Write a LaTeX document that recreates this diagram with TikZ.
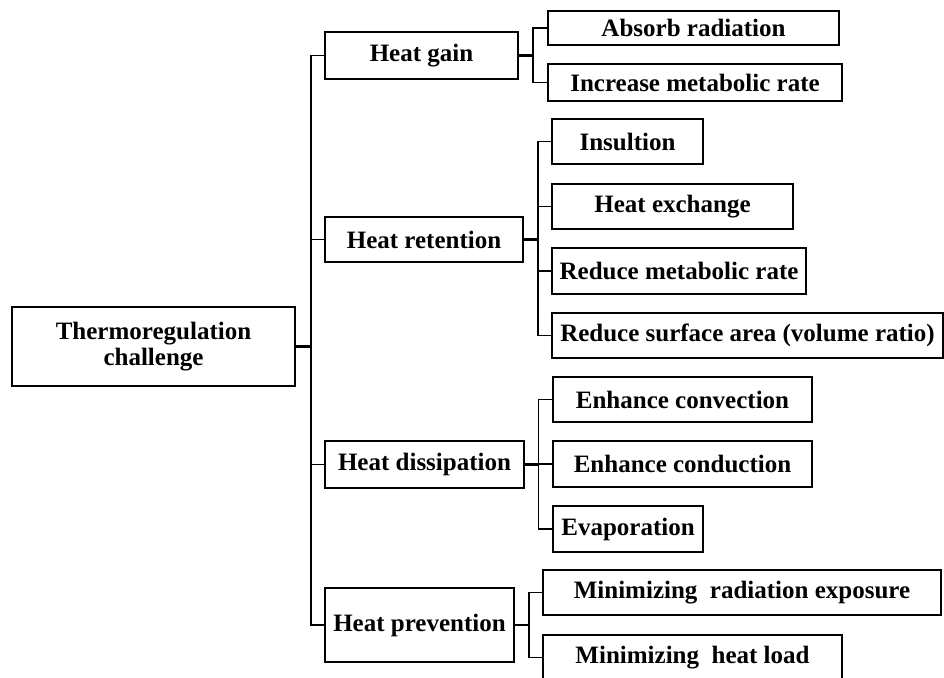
\documentclass[tikz,border=0pt]{standalone}
\usepackage{fontspec}
\setmainfont{Liberation Serif}
\begin{document}
\begin{tikzpicture}[x=1pt,y=-1pt,
  box/.style={draw=black, fill=white, line width=1.8pt, inner sep=0pt,
    font=\fontsize{25}{26.5}\selectfont\bfseries, align=center},
  link/.style={draw=black, line width=1.8pt},
  stub/.style={draw=black, line width=2.6pt}]
\useasboundingbox (0,0) rectangle (944,677);
\clip (0,0) rectangle (944,677);

% root
\node[box, minimum width=283pt, minimum height=79pt] (root) at (153.5,346.5)
  {Thermoregulation\\challenge};

% first level
\node[box, minimum width=193pt, minimum height=47pt] (gain) at (421.5,55.5) {Heat gain};
\node[box, minimum width=198pt, minimum height=45pt] (ret) at (424,239.5) {Heat retention};
\node[box, minimum width=199pt, minimum height=47pt] (dis) at (424.5,464.5) {Heat dissipation};
\node[box, minimum width=189pt, minimum height=74pt] (prev) at (419.5,625) {Heat prevention};

% heat gain
\node[box, minimum width=291pt, minimum height=34pt] (absorb) at (693.5,28) {Absorb radiation};
\node[box, minimum width=294pt, minimum height=37pt] (incr) at (695,82.5) {Increase metabolic rate};

% heat retention
\node[box, minimum width=151pt, minimum height=45pt] (insul) at (627.5,141.5) {Insultion};
\node[box, minimum width=241pt, minimum height=45pt] (exch) at (672.5,206.5) {Heat exchange};
\node[box, minimum width=254pt, minimum height=46pt] (redmet) at (679,271) {Reduce metabolic rate};
\node[box, minimum width=391pt, minimum height=45pt] (redsurf) at (747.5,335.5) {Reduce surface area (volume ratio)};

% heat dissipation
\node[box, minimum width=259pt, minimum height=45pt] (conv) at (682.5,399.5) {Enhance convection};
\node[box, minimum width=259pt, minimum height=46pt] (cond) at (682.5,464) {Enhance conduction};
\node[box, minimum width=150pt, minimum height=46pt] (evap) at (628,529) {Evaporation};

% heat prevention
\node[box, minimum width=398pt, minimum height=45pt] (minrad) at (742,592.5) {Minimizing\ \ radiation exposure};
\node[box, minimum width=299pt, minimum height=45pt] (minload) at (692.5,657.5) {Minimizing\ \ heat load};

% vertical bus lines
\coordinate (trunk) at (311,0);
\coordinate (gbus) at (533,0);
\coordinate (rbus) at (538,0);
\coordinate (dbus) at (538.5,0);
\coordinate (pbus) at (529,0);

% root to first level
\draw[stub] (root.east) -- (root.east -| trunk);
\draw[link] (gain.west) -- (gain.west -| trunk) -- (prev.west -| trunk) -- (prev.west);
\draw[link] (ret.west) -- (ret.west -| trunk);
\draw[link] (dis.west) -- (dis.west -| trunk);

% heat gain branches
\draw[stub] (gain.east) -- (gain.east -| gbus);
\draw[link] (absorb.west) -- (absorb.west -| gbus) -- (incr.west -| gbus) -- (incr.west);

% heat retention branches
\draw[stub] (ret.east) -- (ret.east -| rbus);
\draw[link] (insul.west) -- (insul.west -| rbus) -- (redsurf.west -| rbus) -- (redsurf.west);
\draw[link] (exch.west) -- (exch.west -| rbus);
\draw[link] (redmet.west) -- (redmet.west -| rbus);

% heat dissipation branches
\draw[stub] (dis.east) -- (dis.east -| dbus);
\draw[link] (conv.west) -- (conv.west -| dbus) -- (evap.west -| dbus) -- (evap.west);
\draw[link] (cond.west) -- (cond.west -| dbus);

% heat prevention branches
\draw[stub] (prev.east) -- (prev.east -| pbus);
\draw[link] (minrad.west) -- (minrad.west -| pbus) -- (minload.west -| pbus) -- (minload.west);
\end{tikzpicture}
\end{document}
